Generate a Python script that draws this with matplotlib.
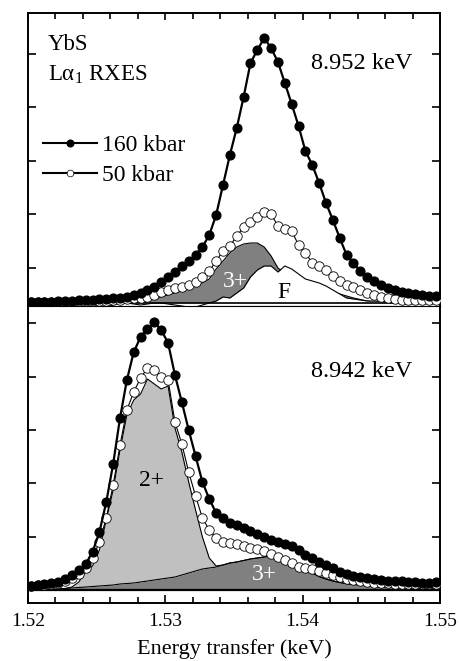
import numpy as np
import matplotlib
matplotlib.use("Agg")
import matplotlib.pyplot as plt
from matplotlib.lines import Line2D
from matplotlib.ticker import MultipleLocator, FormatStrFormatter

plt.rcParams['font.family'] = ['Liberation Serif', 'DejaVu Serif']
plt.rcParams['mathtext.fontset'] = 'stix'

# energy transfer grid (keV), same for both incident energies
energy = [1.5202, 1.5207, 1.5212, 1.5217, 1.5222, 1.5227, 1.5232, 1.5237, 1.5242, 1.5247,
          1.5252, 1.5257, 1.5262, 1.5267, 1.5272, 1.5277, 1.5282, 1.5287, 1.5292, 1.5297,
          1.5302, 1.5307, 1.5312, 1.5317, 1.5322, 1.5327, 1.5332, 1.5337, 1.5342, 1.5347,
          1.5352, 1.5357, 1.5362, 1.5367, 1.5372, 1.5377, 1.5382, 1.5387, 1.5392, 1.5397,
          1.5402, 1.5407, 1.5412, 1.5417, 1.5422, 1.5427, 1.5432, 1.5437, 1.5442, 1.5447,
          1.5452, 1.5457, 1.5462, 1.5467, 1.5472, 1.5477, 1.5482, 1.5487, 1.5492, 1.5497]

# --- 8.952 keV (top panel), arb. units ---
top_160 = [1, 1, 1.5, 1.5, 2, 2, 2.5, 3, 3, 3.5,
           4, 4.5, 5, 5.5, 6.5, 8, 10, 13, 16.5, 21,
           26, 31, 37, 42, 48, 56, 68, 88, 118, 148,
           175, 206, 240, 253, 265, 255, 241, 220, 199, 177,
           152, 138, 120, 100, 83, 65, 48, 40, 32, 26,
           22, 18, 15, 13, 11.5, 10, 9, 8, 7, 7]
top_50 = [1, 1, 1, 1, 1.5, 1.5, 1.5, 2, 2, 2,
          2.5, 2.5, 3, 3.5, 4, 5, 5.5, 6, 8, 11,
          13, 15, 16, 18, 21, 26, 32, 42, 52, 57,
          67, 76, 81, 86, 91, 89, 77, 74, 72, 58,
          50, 40, 37, 33, 27, 22, 18, 16, 13, 10,
          8, 6, 5, 4, 3.5, 3, 3, 3, 3, 3]
top_3plus = [0.5, 0.5, 0.5, 0.5, 0.5, 0.5, 0, 0, 0, -1,
             -2, -2, -1, 0, 1, 2, 3, 4, 5, 6,
             8, 10, 12, 15, 17, 20, 24, 34, 42, 50,
             56, 59, 60, 60, 56, 47, 35, 30, 25, 21,
             17, 14, 12, 11, 10, 9, 7, 5, 3.5, 2,
             1, 0.5, 0.5, 0.5, 0.5, 0.5, 0.5, 0.5, 0.5, 0.5]
top_F = [0, 0, 0, 0, 0, -0.5, -1, 0, 0, -2,
         -4, -4, -2, 0, 0, -1, -2, -1, 0, 0,
         -1, -2, -3, -4, -4, -2, 0, 2, 6, 5,
         10, 15, 26, 33, 37, 37, 31, 37, 34, 29,
         24, 22, 20, 17, 13, 9, 5, 4, 3, 2,
         2, 1.5, 1, 1, 1, 1, 1, 1, 1, 1]

# --- 8.942 keV (bottom panel), arb. units ---
bot_160 = [4, 5, 6, 7, 8, 11, 15, 20, 26, 38,
           58, 88, 126, 172, 210, 238, 253, 261, 268, 260,
           247, 215, 188, 160, 134, 108, 91, 77, 72, 67,
           65, 62, 59, 56, 53, 50, 48, 46, 44, 40,
           35, 32, 28, 25, 22, 18, 16, 14, 13, 12,
           11, 10, 9.5, 9, 9, 8.5, 8, 7.5, 7, 8]
bot_50 = [4, 5, 5, 6, 7, 9, 12, 16, 22, 32,
          48, 72, 105, 145, 180, 198, 212, 222, 220, 213,
          210, 168, 146, 118, 94, 72, 60, 52, 48, 47,
          46, 44, 42, 41, 39, 36, 33, 30, 27, 23,
          22, 21, 19, 17, 15, 13, 11, 10, 9.5, 8.5,
          7.5, 7, 7, 6.5, 6.5, 6, 6, 6, 6, 6]
bot_3plus = [0.5, 0.5, 0.5, 0.5, 1, 1.5, 2, 2.5, 3, 3.5,
             4, 4.5, 5, 6, 6.5, 7, 8, 9, 10, 11,
             12, 13, 15, 17, 19, 21, 22, 23, 25, 27,
             28, 29.5, 31, 32, 33, 34, 33.5, 32, 29.5, 25,
             21, 17, 13.5, 11, 9, 7.5, 6.3, 5.5, 5, 4.3,
             3.5, 3, 3, 2.5, 2.5, 2, 2, 2, 2, 2]
bot_2plus = [0, 0, 0, 0, 0, 0, 1, 5.5, 15, 20.5,
             36, 65.5, 95, 134, 168.5, 183, 188, 202, 196, 190,
             192, 149, 123, 91, 61, 32, 10, 1, 0, 0,
             0, 0, 0, 0, 0, 0, 0, 0, 0, 0,
             0, 0, 0, 0, 0, 0, 0, 0, 0, 0,
             0, 0, 0, 0, 0, 0, 0, 0, 0, 0]

E = np.array(energy)
b3 = np.array(bot_3plus)
b_total = b3 + np.array(bot_2plus)

W, H = 459, 661
fig = plt.figure(figsize=(W / 100, H / 100), dpi=100)
ax_top = fig.add_axes([28 / W, 1 - 306 / H, 412 / W, 293 / H])
ax_bot = fig.add_axes([28 / W, 1 - 603 / H, 412 / W, 297 / H], sharex=ax_top)

dark = '#808080'
light = '#c0c0c0'

# top panel
ax_top.fill_between(E, 0, top_3plus, color=dark, lw=0, zorder=1)
ax_top.plot(E, top_3plus, color='k', lw=0.8, zorder=2)
ax_top.fill_between(E, 0, top_F, color='white', lw=0, zorder=3)
ax_top.plot(E, top_F, color='k', lw=0.8, zorder=4)
ax_top.axhline(0, color='k', lw=1.2, zorder=4)
ax_top.plot(E, top_50, '-', color='k', lw=0.8, marker='o', ms=6.8,
            mfc='white', mec='k', mew=0.6, zorder=5)
ax_top.plot(E, top_160, '-', color='k', lw=1.6, marker='o', ms=6.3,
            mfc='k', mec='k', zorder=6)

# bottom panel
ax_bot.fill_between(E, 0, b3, color=dark, lw=0, zorder=1)
ax_bot.fill_between(E, b3, b_total, color=light, lw=0, zorder=2)
ax_bot.plot(E, b3, color='k', lw=0.8, zorder=3)
ax_bot.plot(E, b_total, color='k', lw=0.8, zorder=3)
ax_bot.axhline(0, color='k', lw=1.6, zorder=4)
ax_bot.plot(E, bot_50, '-', color='k', lw=0.8, marker='o', ms=6.8,
            mfc='white', mec='k', mew=0.6, zorder=5)
ax_bot.plot(E, bot_160, '-', color='k', lw=1.6, marker='o', ms=6.3,
            mfc='k', mec='k', zorder=6)

ax_top.set_xlim(1.52, 1.55)
ax_top.set_ylim(-3, 290)
ax_bot.set_ylim(-13, 284)
ax_top.set_yticks(np.arange(35, 290, 53.6))
ax_bot.set_yticks(np.arange(53.5, 284, 53.3))

for ax in (ax_top, ax_bot):
    for s in ax.spines.values():
        s.set_linewidth(1.4)
    ax.xaxis.set_major_locator(MultipleLocator(0.01))
    ax.xaxis.set_minor_locator(MultipleLocator(0.002))
    ax.tick_params(axis='y', which='both', direction='in', left=True, right=True,
                   labelleft=False, length=6, width=1.2)
    ax.tick_params(axis='y', which='minor', left=False, right=False)
ax_top.spines['bottom'].set_linewidth(0.8)
ax_bot.spines['top'].set_linewidth(0.8)

ax_top.tick_params(axis='x', which='both', direction='in', top=True, bottom=False,
                   labelbottom=False, width=1.2)
ax_top.tick_params(axis='x', which='major', length=5)
ax_top.tick_params(axis='x', which='minor', length=4)
ax_bot.tick_params(axis='x', which='both', direction='in', top=False, bottom=True,
                   width=1.2, labelsize=14, pad=7)
ax_bot.tick_params(axis='x', which='major', length=6)
ax_bot.tick_params(axis='x', which='minor', length=4)
ax_bot.xaxis.set_major_formatter(FormatStrFormatter('%.2f'))
ax_bot.set_xlabel('Energy transfer (keV)', fontsize=16, labelpad=7)

# annotations
ax_top.text(0.048, 0.891, 'YbS', transform=ax_top.transAxes, fontsize=16.5, va='center')
ax_top.text(0.048, 0.79, r'L$\mathregular{\alpha_1}$ RXES', transform=ax_top.transAxes,
            fontsize=16.5, va='center')
ax_top.text(0.932, 0.827, '8.952 keV', transform=ax_top.transAxes, fontsize=17.5,
            ha='right', va='center')
ax_top.text(1.5351, 22, '3+', color='white', fontsize=17, ha='center', va='center', zorder=7)
ax_top.text(1.5386, 11, 'F', color='k', fontsize=17, ha='center', va='center', zorder=7)

ax_bot.text(0.932, 0.778, '8.942 keV', transform=ax_bot.transAxes, fontsize=17.5,
            ha='right', va='center')
ax_bot.text(1.5290, 110, '2+', color='k', fontsize=17, ha='center', va='center', zorder=7)
ax_bot.text(1.5372, 15, '3+', color='white', fontsize=17, ha='center', va='center', zorder=7)

handles = [Line2D([], [], color='k', lw=1.5, marker='o', ms=4.8, mfc='k', mec='k'),
           Line2D([], [], color='k', lw=1.5, marker='o', ms=4.8, mfc='white', mec='k',
                  mew=0.5)]
ax_top.legend(handles, ['160 kbar', '50 kbar'], loc='upper left',
              bbox_to_anchor=(0.036, 0.585), frameon=False, fontsize=17,
              handlelength=2.3, handletextpad=0.2, labelspacing=0.35,
              borderpad=0, borderaxespad=0)

fig.savefig('out.png', dpi=100)
